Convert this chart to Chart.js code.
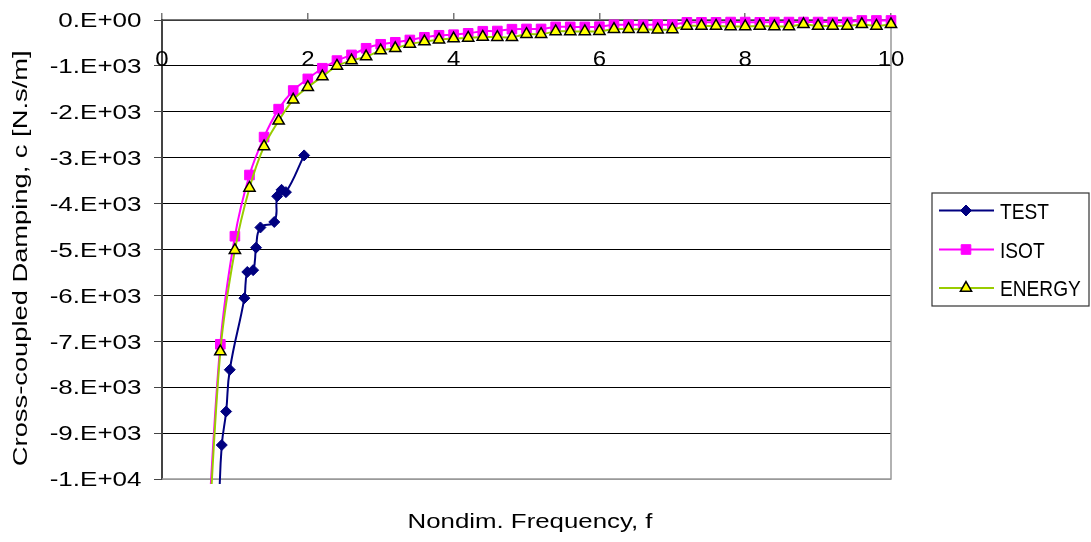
<!DOCTYPE html>
<html>
<head>
<meta charset="utf-8">
<script src="https://cdn.jsdelivr.net/npm/chart.js@4/dist/chart.umd.min.js"></script>
<style>
	body { margin: 0; background: #fff; }
	#wrap { width: 1091px; height: 542px; }
</style>
</head>
<body>
<div id="wrap"><canvas id="dampChart"></canvas></div>
<script>

	// measured test points
	var freqTest = [0.78, 0.82, 0.88, 0.93, 1.13, 1.17, 1.25, 1.29, 1.35, 1.54, 1.58, 1.64, 1.70, 1.95];
	var dampTest = [-10600, -9260, -8530, -7620, -6060, -5490, -5450, -4960, -4520, -4400, -3840, -3700, -3750, -2950];

	// model predictions (ISOT, ENERGY) share the same frequencies
	var freqModel = [0.6, 0.8, 1.0, 1.2, 1.4, 1.6, 1.8, 2.0, 2.2, 2.4, 2.6, 2.8, 3.0, 3.2, 3.4, 3.6,
		3.8, 4.0, 4.2, 4.4, 4.6, 4.8, 5.0, 5.2, 5.4, 5.6, 5.8, 6.0, 6.2, 6.4, 6.6, 6.8,
		7.0, 7.2, 7.4, 7.6, 7.8, 8.0, 8.2, 8.4, 8.6, 8.8, 9.0, 9.2, 9.4, 9.6, 9.8, 10.0];
	var dampIsot = [-12000, -7065, -4711, -3377, -2551, -1942, -1536, -1283, -1051, -884, -761, -616, -529, -486, -435, -377,
		-333, -320, -290, -245, -240, -200, -195, -195, -150, -150, -150, -145, -105, -105, -105, -100,
		-100, -50, -50, -50, -45, -45, -50, -45, -45, -45, -45, -45, -45, -10, -10, -10];
	var dampEnergy = [-12500, -7224, -5015, -3660, -2754, -2196, -1739, -1464, -1232, -1000, -884, -797, -667, -616, -522, -471,
		-430, -405, -390, -370, -375, -375, -310, -310, -250, -250, -250, -245, -200, -200, -200, -210,
		-205, -130, -130, -130, -140, -140, -130, -140, -140, -95, -130, -130, -130, -95, -130, -95];

	var xTickValues = [0, 2, 4, 6, 8, 10];
	var xTickLabels = ['0', '2', '4', '6', '8', '10'];
	var yTickValues = [0, -1000, -2000, -3000, -4000, -5000, -6000, -7000, -8000, -9000, -10000];
	var yTickLabels = ['0.E+00', '-1.E+03', '-2.E+03', '-3.E+03', '-4.E+03', '-5.E+03',
		'-6.E+03', '-7.E+03', '-8.E+03', '-9.E+03', '-1.E+04'];

	var xTitle = 'Nondim. Frequency, f';
	var yTitle = 'Cross-coupled Damping, c [N.s/m]';

	var FONT = '"Liberation Sans", Arial, sans-serif';

	function toPoints(xs, ys) {
		var pts = [];
		for (var i = 0; i < xs.length; i++) {
			pts.push({x: xs[i], y: ys[i]});
		}
		return pts;
	}

	// excel text is wider than the plain font, so squeeze/stretch it by hand
	function stretchText(c, text, x, y, size, sx, align, rot) {
		c.save();
		c.translate(x, y);
		if (rot) c.rotate(rot);
		c.scale(sx, 1);
		c.font = size + 'px ' + FONT;
		c.fillStyle = '#000';
		c.textAlign = align;
		c.textBaseline = 'alphabetic';
		c.fillText(text, 0, 0);
		c.restore();
	}

	var excelDeco = {
		id: 'excelDeco',
		beforeDatasetsDraw: function(chart) {
			var a = chart.chartArea;
			var c = chart.ctx;
			c.save();
			c.strokeStyle = '#999';
			c.lineWidth = 1.5;
			c.beginPath();
			c.moveTo(a.right, a.top);
			c.lineTo(a.right, a.bottom);
			c.lineTo(a.left, a.bottom);
			c.stroke();
			c.restore();
		},
		afterDraw: function(chart) {
			var c = chart.ctx;
			var xs = chart.scales.x;
			var ys = chart.scales.y;
			var i;

			for (i = 0; i < yTickValues.length; i++) {
				stretchText(c, yTickLabels[i], 141.5, ys.getPixelForValue(yTickValues[i]) + 7.2, 20, 1.3, 'right');
			}
			for (i = 0; i < xTickValues.length; i++) {
				stretchText(c, xTickLabels[i], xs.getPixelForValue(xTickValues[i]), 65.7, 22, 1.09, 'center');
			}

			stretchText(c, xTitle, 530, 528.3, 21, 1.23, 'center');
			stretchText(c, yTitle, 26.7, 258.3, 21, 1.3, 'center', -Math.PI / 2);

			// legend box
			c.save();
			c.strokeStyle = '#333';
			c.lineWidth = 1.2;
			c.strokeRect(932, 193, 157, 113);
			var rows = [210.5, 249.5, 288];
			var sets = chart.data.datasets;
			for (i = 0; i < sets.length; i++) {
				var ds = sets[i];
				var y = rows[i];
				c.strokeStyle = ds.borderColor;
				c.lineWidth = ds.borderWidth;
				c.beginPath();
				c.moveTo(939, y);
				c.lineTo(994, y);
				c.stroke();
				c.fillStyle = ds.pointBackgroundColor;
				c.strokeStyle = ds.pointBorderColor;
				c.lineWidth = ds.pointBorderWidth;
				Chart.helpers.drawPoint(c, {
					pointStyle: ds.pointStyle,
					radius: ds.pointRadius,
					rotation: 0,
					borderWidth: ds.pointBorderWidth
				}, 966, y);
				stretchText(c, ds.label, 1000, y + 8, 22, 0.87, 'left');
			}
			c.restore();
		}
	};

	var plotClip = {left: 10, top: false, right: false, bottom: 5};

	var data = {
		datasets: [
			{
				label: 'TEST',
				data: toPoints(freqTest, dampTest),
				borderColor: '#000080',
				borderWidth: 2,
				tension: 0.45,
				pointStyle: 'rectRot',
				pointRadius: 5.5,
				pointBackgroundColor: '#000080',
				pointBorderColor: '#000080',
				pointBorderWidth: 1,
				clip: plotClip,
				order: 2
			},
			{
				label: 'ISOT',
				data: toPoints(freqModel, dampIsot),
				borderColor: '#ff00ff',
				borderWidth: 2,
				tension: 0.35,
				pointStyle: 'rect',
				pointRadius: 6.8,
				pointBackgroundColor: '#ff00ff',
				pointBorderColor: '#ff00ff',
				pointBorderWidth: 1,
				clip: plotClip,
				order: 1
			},
			{
				label: 'ENERGY',
				data: toPoints(freqModel, dampEnergy),
				borderColor: '#99cc00',
				borderWidth: 2,
				tension: 0.35,
				pointStyle: 'triangle',
				pointRadius: 6.5,
				pointBackgroundColor: '#ffff00',
				pointBorderColor: '#000',
				pointBorderWidth: 1.5,
				clip: plotClip,
				order: 0
			}
		]
	};

	var options = {
		responsive: true,
		maintainAspectRatio: false,
		animation: false,
		layout: {
			padding: {left: 154, top: 13, right: 200, bottom: 63}
		},
		plugins: {
			legend: {display: false},
			tooltip: {enabled: false}
		},
		scales: {
			x: {
				type: 'linear',
				position: 'top',
				min: 0,
				max: 10,
				ticks: {stepSize: 2, display: false},
				grid: {drawOnChartArea: false, drawTicks: true, tickLength: 7, color: '#777', lineWidth: 1.5},
				border: {color: '#777', width: 1.5}
			},
			y: {
				type: 'linear',
				min: -10000,
				max: 0,
				ticks: {stepSize: 1000, display: false},
				grid: {
					color: function(g) { return g.tick && g.tick.value === -10000 ? '#999' : '#000'; },
					lineWidth: 1,
					drawTicks: true,
					tickLength: 8,
					tickColor: '#444'
				},
				border: {color: '#444', width: 2}
			}
		}
	};

	var myChart = new Chart(document.getElementById('dampChart').getContext('2d'), {
		type: 'line',
		data: data,
		options: options,
		plugins: [excelDeco]
	});

</script>
</body>
</html>
